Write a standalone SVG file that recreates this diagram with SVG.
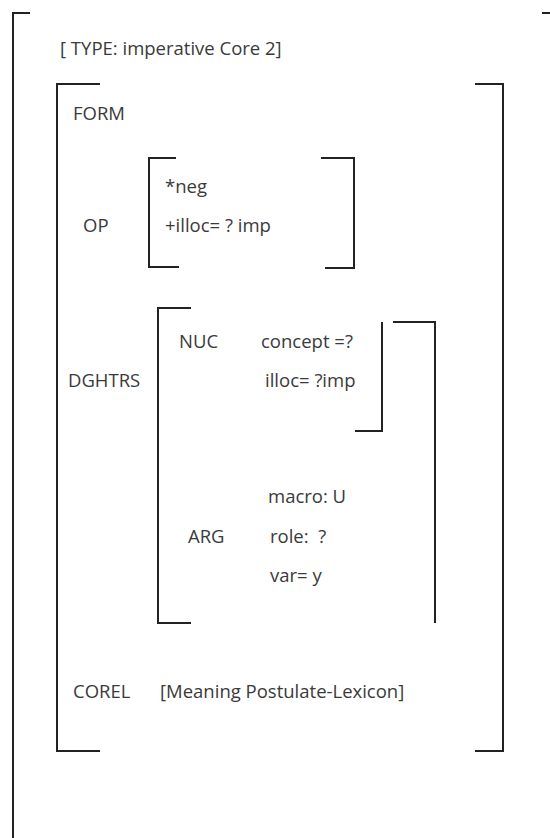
<svg xmlns="http://www.w3.org/2000/svg" width="550" height="838" viewBox="0 0 550 838">
<style>
.br{fill:none;stroke:#222;stroke-width:2;stroke-linecap:square}
.t{font-family:"Open Sans","Liberation Sans",Arial,sans-serif;font-size:18.5px;fill:#3a3a3a;white-space:pre}
</style>
<rect width="550" height="838" fill="#fff"/>
<g id="outer">
<path class="br" d="M29,13 H13 V838"/>
<path class="br" d="M543,13 H549"/>
</g>
<g id="type">
<text class="t" x="60" y="55">[ TYPE: imperative Core 2]</text>
</g>
<g id="form">
<path class="br" d="M99,84 H57 V751 H99"/>
<path class="br" d="M476,84 H503 V751 H476"/>
<text class="t" x="73" y="120">FORM</text>
</g>
<g id="op">
<text class="t" x="83" y="232">OP</text>
<path class="br" d="M175,158 H149 V267 H178"/>
<path class="br" d="M322,158 H354 V268 H326"/>
<text class="t" x="165" y="193">*neg</text>
<text class="t" x="165" y="232">+illoc= ? imp</text>
</g>
<g id="dghtrs">
<text class="t" x="68" y="387">DGHTRS</text>
<path class="br" d="M190,308 H158 V623 H190"/>
<path class="br" d="M394,322 H435 V622"/>
</g>
<g id="nuc">
<text class="t" x="179" y="348">NUC</text>
<text class="t" x="261" y="348">concept =?</text>
<text class="t" x="265" y="387">illoc= ?imp</text>
<path class="br" d="M382,323 V431 H356"/>
</g>
<g id="arg">
<text class="t" x="268" y="503">macro: U</text>
<text class="t" x="188" y="543">ARG</text>
<text class="t" x="270" y="543">role:  ?</text>
<text class="t" x="270" y="582">var= y</text>
</g>
<g id="corel">
<text class="t" x="73" y="698">COREL</text>
<text class="t" x="160" y="698">[Meaning Postulate-Lexicon]</text>
</g>
<g id="connectors"/>
</svg>
